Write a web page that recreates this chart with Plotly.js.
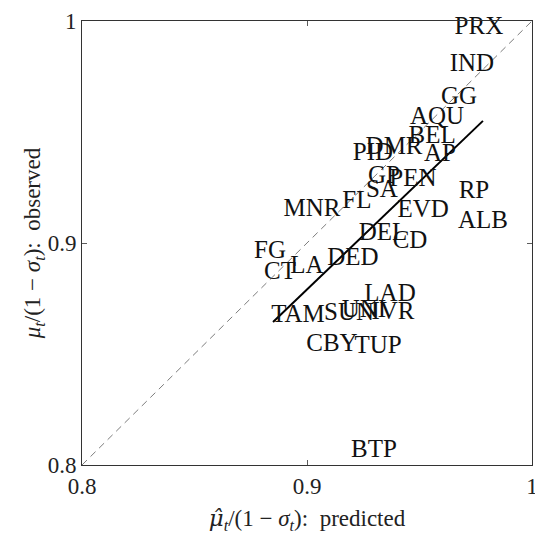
<!DOCTYPE html>
<html>
<head>
<meta charset="utf-8">
<script src="https://cdn.plot.ly/plotly-3.0.1.min.js"></script>
<style>html,body{margin:0;padding:0;background:#fff;}#plot{width:535px;height:539px;}</style>
</head>
<body>
<div id="plot"></div>
<script>
// label names
const labels = ["PRX","IND","GG","AQU","BEL","PID","DMR","AP","GP","PEN","SA","FL","MNR","EVD","RP","ALB","DEL","CD","FG","DED","LA","CT","LAD","TAM","SUN","UNI","IVR","CBY","TUP","BTP"];
// predicted (x) values
const predicted = [0.9764,0.9733,0.9676,0.9578,0.9556,0.9293,0.9387,0.9591,0.9342,0.9471,0.9333,0.9222,0.9022,0.9516,0.9742,0.9782,0.9338,0.9458,0.8836,0.9204,0.9000,0.8880,0.9369,0.8960,0.9187,0.9253,0.9382,0.9111,0.9316,0.9298];
// observed (y) values
const observed = [0.9968,0.9802,0.9653,0.9563,0.9477,0.9401,0.9428,0.9396,0.9297,0.9284,0.9234,0.9185,0.9149,0.9144,0.9230,0.9095,0.9041,0.9005,0.8959,0.8928,0.8892,0.8865,0.8766,0.8671,0.8680,0.8694,0.8685,0.8541,0.8532,0.8063];
// fitted line endpoints
const fitX = [0.8849, 0.9782];
const fitY = [0.8644, 0.9550];
// identity line
const diag = [0.8, 1.0];
const tickVals = [0.8, 0.9, 1.0];
const tickText = ["0.8", "0.9", "1"];

const serif = "Liberation Serif, DejaVu Serif, serif";

const traces = [
  {x: diag, y: diag, mode: "lines", line: {color: "#444", width: 0.7, dash: "7px,5px"}, hoverinfo: "skip"},
  {x: fitX, y: fitY, mode: "lines", line: {color: "#000", width: 2}, hoverinfo: "skip"},
  {x: predicted, y: observed, mode: "text", text: labels, textposition: "middle center", cliponaxis: false,
   textfont: {family: serif, size: 25, color: "#111"}}
];

const axisCommon = {
  range: [0.8, 1.0], tickvals: tickVals, ticktext: tickText,
  ticks: "inside", ticklen: 5, tickcolor: "#333", tickwidth: 0.8,
  showline: true, linecolor: "#333", linewidth: 1, mirror: "ticks",
  showgrid: false, zeroline: false, ticklabeloverflow: "allow",
  tickfont: {family: serif, size: 23, color: "#222"}
};

const layout = {
  width: 535, height: 539,
  margin: {l: 82, r: 3, t: 21, b: 74},
  paper_bgcolor: "#fff", plot_bgcolor: "#fff",
  showlegend: false,
  xaxis: Object.assign({}, axisCommon, {
    title: {text: "<span style=\"font-family:DejaVu Serif\"><i>μ̂</i></span><sub><i>t</i></sub>/(1 − <i>σ</i><sub><i>t</i></sub>):  predicted", font: {family: serif, size: 23, color: "#222"}, standoff: 12}
  }),
  yaxis: Object.assign({}, axisCommon, {
    title: {text: "<i>μ</i><sub><i>t</i></sub>/(1 − <i>σ</i><sub><i>t</i></sub>):  observed", font: {family: serif, size: 23, color: "#222"}, standoff: 0}
  })
};

Plotly.newPlot("plot", traces, layout, {displayModeBar: false, staticPlot: true});
</script>
</body>
</html>
